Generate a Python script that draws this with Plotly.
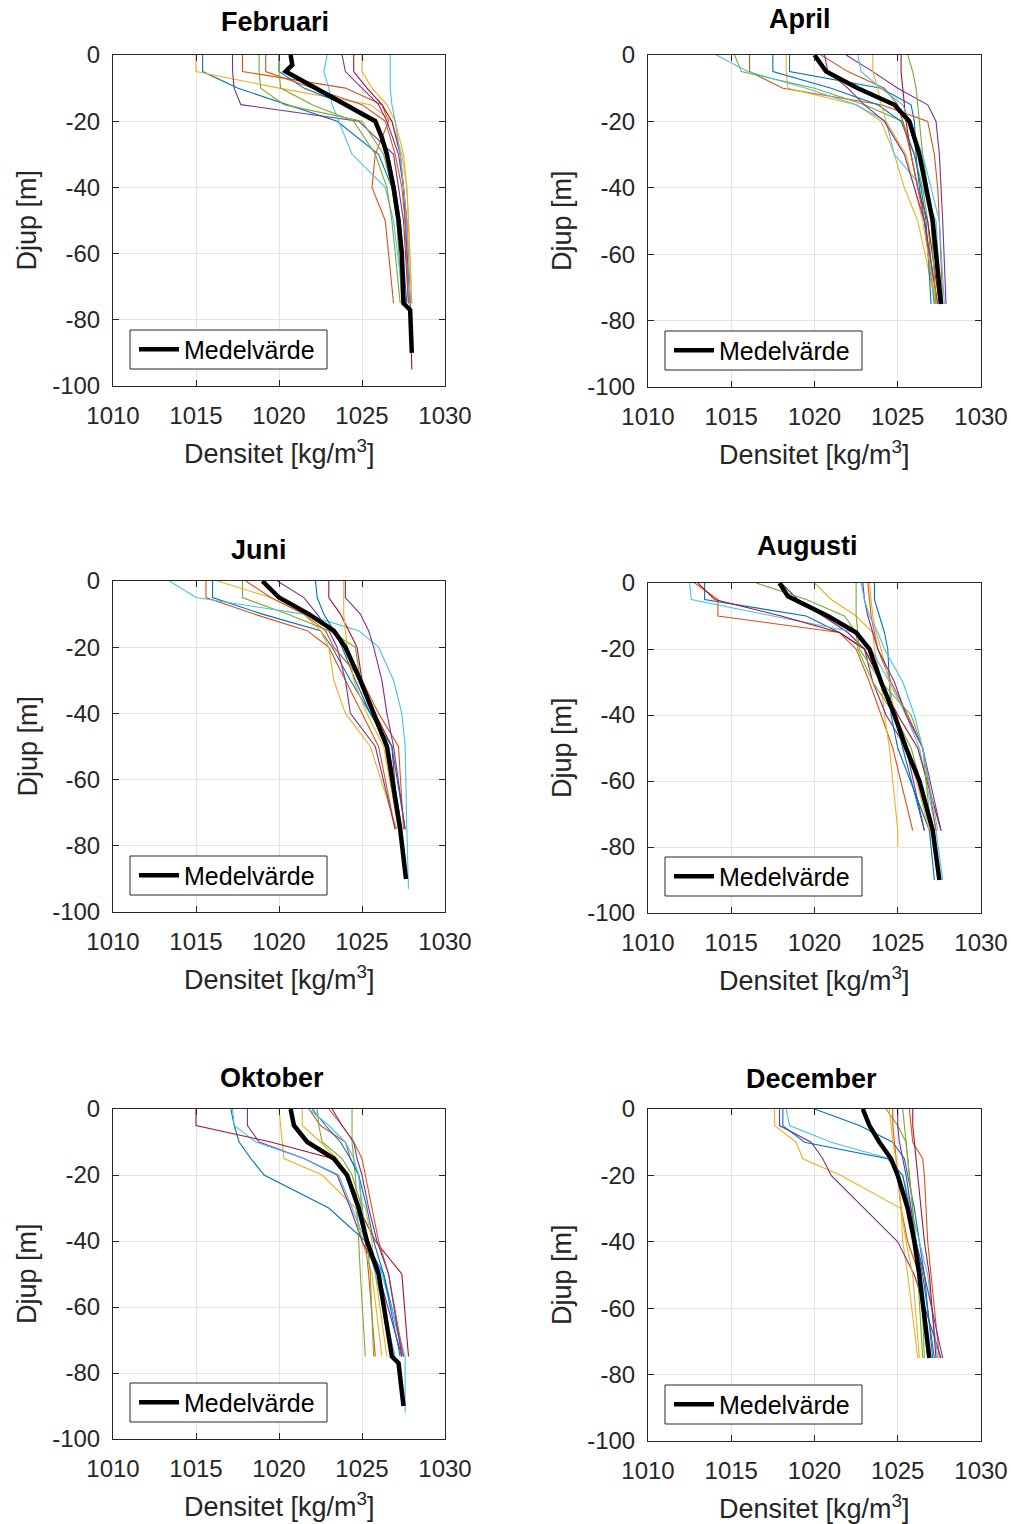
import plotly.graph_objects as go

# ---------------- data ----------------
MONTHS = ["Februari", "April", "Juni", "Augusti", "Oktober", "December"]
DEPTHS = [0, -5, -10, -15, -20, -30, -40, -50, -75]
X_TICKS = [1010, 1015, 1020, 1025, 1030]
Y_TICKS = [0, -20, -40, -60, -80, -100]
Y_TICK_TEXT = ["0", "-20", "-40", "-60", "-80", "-100"]
LEGEND_NAME = "Medelvärde"

feb_profiles = [
    [1015.4, 1015.4, 1017.5, 1020.5, 1023.5, 1026.0, 1026.8, 1027.2, 1027.6],
    [1017.8, 1017.8, 1024.0, 1026.2, 1026.6, 1025.8, 1025.6, 1026.4, 1026.9],
    [1015.0, 1015.0, 1020.0, 1025.5, 1026.8, 1027.4, 1027.7, 1027.8, 1028.0],
    [1017.2, 1017.2, 1017.3, 1017.7, 1024.8, 1026.9, 1027.2, 1027.5, 1027.8],
    [1018.8, 1018.8, 1018.9, 1020.3, 1025.0, 1026.3, 1026.8, 1027.1, 1027.4],
    [1022.9, 1022.7, 1023.0, 1023.2, 1023.6, 1024.4, 1026.4, 1026.9, 1027.5],
    [1024.5, 1024.5, 1025.3, 1026.2, 1026.8, 1027.3, 1027.5, 1027.6, 1027.9],
    [1020.0, 1020.0, 1021.5, 1024.0, 1025.8, 1026.5, 1027.0, 1027.3, 1027.7],
    [1019.2, 1019.2, 1022.0, 1025.0, 1026.4, 1027.0, 1027.4, 1027.6, 1027.8],
    [1025.0, 1025.0, 1025.6, 1026.5, 1027.0, 1027.5, 1027.7, 1027.8, 1028.0],
    [1023.8, 1024.0, 1025.0, 1026.0, 1026.5, 1027.2, 1027.5, 1027.7, 1027.9],
    [1020.0, 1020.0, 1020.1, 1022.0, 1024.5, 1025.8, 1026.5, 1026.8, 1027.3],
    [1026.7, 1026.7, 1026.7, 1026.8, 1027.0, 1027.3, 1027.5, 1027.7, 1027.9],
]
feb_extra = [(6, -95, 1028.0)]
feb_mean_depth = [0, -3, -5, -10, -15, -20, -25, -30, -40, -50, -60, -75, -77, -90]
feb_mean = [1020.7, 1020.8, 1020.4, 1022.2, 1024.1, 1025.8, 1026.2, 1026.5,
            1026.9, 1027.2, 1027.4, 1027.5, 1027.9, 1028.0]

apr_profiles = [
    [1018.5, 1018.5, 1024.0, 1025.8, 1026.0, 1026.1, 1026.3, 1026.6, 1027.2],
    [1016.1, 1016.1, 1018.1, 1024.0, 1026.8, 1027.2, 1027.4, 1027.5, 1027.7],
    [1018.3, 1018.3, 1018.4, 1022.5, 1024.0, 1024.8, 1025.4, 1026.2, 1027.3],
    [1021.9, 1023.5, 1025.0, 1026.8, 1027.3, 1027.5, 1027.6, 1027.7, 1027.9],
    [1015.2, 1015.6, 1020.0, 1023.0, 1025.3, 1026.0, 1026.5, 1026.8, 1027.2],
    [1014.1, 1016.0, 1019.5, 1022.5, 1024.3, 1024.8, 1026.5, 1027.3, 1027.6],
    [1025.2, 1025.2, 1025.3, 1025.4, 1025.5, 1025.8, 1026.2, 1026.8, 1027.5],
    [1017.5, 1017.5, 1021.0, 1023.8, 1025.2, 1026.0, 1026.4, 1026.7, 1027.0],
    [1020.4, 1022.0, 1024.2, 1025.0, 1025.3, 1025.8, 1026.2, 1026.6, 1027.4],
    [1023.5, 1023.5, 1023.8, 1024.0, 1024.3, 1025.5, 1026.0, 1026.5, 1027.3],
    [1020.6, 1020.8, 1022.0, 1023.0, 1024.2, 1025.4, 1026.0, 1026.6, 1027.4],
    [1025.6, 1025.9, 1026.1, 1026.2, 1026.3, 1026.5, 1026.8, 1027.0, 1027.3],
    [1022.6, 1022.8, 1024.0, 1025.3, 1025.7, 1026.5, 1027.0, 1027.5, 1027.8],
]
apr_extra = []
apr_mean_depth = DEPTHS
apr_mean = [1020.0, 1020.7, 1022.6, 1024.8, 1025.7, 1026.3, 1026.7, 1027.1, 1027.6]

jun_profiles = [
    [1016.0, 1016.0, 1019.0, 1022.5, 1023.2, 1024.3, 1025.5, 1026.6, 1027.4],
    [1015.6, 1015.6, 1018.5, 1021.7, 1023.0, 1024.0, 1025.0, 1026.0, 1027.0],
    [1016.3, 1019.5, 1021.5, 1022.5, 1023.0, 1023.3, 1024.0, 1025.5, 1027.1],
    [1019.9, 1021.5, 1022.3, 1023.0, 1023.5, 1024.0, 1024.3, 1025.8, 1027.0],
    [1017.8, 1017.8, 1020.5, 1023.0, 1024.6, 1024.9, 1025.8, 1026.6, 1027.3],
    [1013.4, 1015.0, 1021.5, 1024.8, 1026.0, 1026.9, 1027.4, 1027.6, 1027.7],
    [1023.0, 1023.0, 1023.7, 1024.2, 1024.7, 1025.0, 1025.8, 1026.8, 1027.2],
    [1022.2, 1022.3, 1022.7, 1023.3, 1023.8, 1024.6, 1025.5, 1026.8, 1027.6],
    [1018.0, 1019.5, 1021.5, 1022.8, 1023.3, 1025.0, 1026.0, 1027.2, 1027.5],
    [1023.9, 1023.9, 1023.9, 1024.0, 1024.1, 1024.5, 1025.3, 1026.3, 1027.2],
    [1024.0, 1024.0, 1024.9, 1025.4, 1025.7, 1026.2, 1026.5, 1026.9, 1027.6],
]
jun_extra = [(5, -93, 1027.8)]
jun_mean_depth = [0, -5, -10, -15, -20, -30, -40, -50, -75, -90]
jun_mean = [1019.0, 1020.0, 1021.8, 1023.3, 1024.0, 1024.9, 1025.7, 1026.5, 1027.3, 1027.65]

aug_profiles = [
    [1013.4, 1013.4, 1019.5, 1021.5, 1023.0, 1024.0, 1024.8, 1025.3, 1026.6],
    [1012.8, 1014.2, 1014.2, 1021.5, 1022.5, 1023.3, 1024.0, 1024.7, 1025.9],
    [1020.0, 1021.0, 1022.5, 1023.5, 1023.6, 1024.0, 1024.2, 1024.5, 1025.0],
    [1018.0, 1019.0, 1020.5, 1022.0, 1023.0, 1023.5, 1024.3, 1025.5, 1026.6],
    [1016.5, 1019.5, 1021.8, 1022.5, 1022.6, 1023.5, 1024.8, 1025.8, 1027.2],
    [1012.5, 1012.6, 1017.5, 1022.5, 1023.4, 1024.5, 1025.5, 1026.3, 1027.3],
    [1013.0, 1014.0, 1018.0, 1021.5, 1023.0, 1024.0, 1025.0, 1026.2, 1027.6],
    [1023.6, 1023.6, 1023.9, 1024.2, 1024.4, 1024.5, 1024.6, 1025.0, 1026.9],
    [1023.2, 1023.3, 1023.4, 1023.6, 1023.8, 1024.6, 1025.6, 1026.5, 1027.3],
    [1023.3, 1023.4, 1023.5, 1023.7, 1024.0, 1024.5, 1024.8, 1025.6, 1026.9],
    [1022.9, 1023.0, 1023.2, 1023.5, 1023.8, 1024.8, 1025.5, 1026.5, 1027.6],
    [1022.5, 1022.5, 1022.5, 1022.6, 1022.7, 1024.0, 1025.8, 1026.5, 1027.0],
    [1022.8, 1023.0, 1023.3, 1023.8, 1024.2, 1025.3, 1026.0, 1026.5, 1027.4],
]
aug_extra = [(2, -80, 1025.0), (5, -90, 1027.7), (7, -90, 1027.2)]
aug_mean_depth = [0, -4, -10, -15, -20, -30, -40, -50, -60, -75, -90]
aug_mean = [1017.9, 1018.4, 1020.8, 1022.5, 1023.3, 1024.0, 1024.8, 1025.5, 1026.3, 1027.1, 1027.5]

okt_profiles = [
    [1017.1, 1017.3, 1017.6, 1018.3, 1019.1, 1023.0, 1025.2, 1026.3, 1027.5],
    [1021.8, 1022.5, 1024.0, 1024.3, 1024.8, 1025.0, 1025.2, 1025.4, 1025.8],
    [1020.0, 1020.1, 1020.2, 1020.3, 1022.6, 1024.6, 1025.0, 1025.6, 1026.2],
    [1018.1, 1018.1, 1018.8, 1021.5, 1023.5, 1024.3, 1025.0, 1026.0, 1027.4],
    [1024.4, 1024.4, 1024.4, 1024.5, 1024.6, 1024.7, 1024.8, 1024.9, 1025.2],
    [1017.2, 1017.3, 1018.6, 1021.5, 1023.6, 1024.4, 1025.2, 1026.2, 1027.6],
    [1015.0, 1015.0, 1019.5, 1023.2, 1024.0, 1024.8, 1025.8, 1027.4, 1027.8],
    [1022.0, 1022.8, 1023.7, 1024.3, 1024.8, 1025.3, 1025.7, 1026.3, 1027.3],
    [1023.0, 1023.8, 1024.5, 1025.0, 1025.2, 1025.6, 1026.0, 1026.6, 1027.5],
    [1021.4, 1021.4, 1022.5, 1023.5, 1024.0, 1025.2, 1025.6, 1025.8, 1026.5],
    [1023.2, 1023.8, 1024.5, 1024.7, 1025.0, 1025.4, 1025.9, 1026.6, 1027.4],
    [1022.3, 1022.4, 1022.6, 1023.8, 1024.4, 1025.0, 1025.3, 1025.5, 1025.7],
    [1021.8, 1023.0, 1024.0, 1024.5, 1024.8, 1025.0, 1025.3, 1025.8, 1027.0],
]
okt_extra = [(5, -92, 1027.6)]
okt_mean_depth = [0, -5, -10, -15, -20, -30, -40, -50, -75, -77, -90]
okt_mean = [1020.7, 1020.9, 1021.7, 1023.3, 1024.1, 1024.8, 1025.3, 1026.0, 1026.8, 1027.2, 1027.5]

dec_profiles = [
    [1020.0, 1022.7, 1024.7, 1025.4, 1025.6, 1026.0, 1026.3, 1026.6, 1027.1],
    [1025.7, 1025.8, 1025.9, 1026.5, 1026.6, 1026.7, 1026.8, 1027.0, 1027.5],
    [1017.6, 1017.6, 1018.9, 1019.3, 1021.6, 1025.2, 1025.3, 1025.6, 1026.2],
    [1017.9, 1017.9, 1019.8, 1020.5, 1021.0, 1023.0, 1025.0, 1026.0, 1027.6],
    [1024.3, 1025.0, 1025.5, 1025.6, 1025.7, 1025.9, 1026.0, 1026.2, 1026.5],
    [1018.3, 1018.5, 1021.0, 1024.5, 1025.3, 1025.8, 1026.3, 1026.8, 1027.4],
    [1025.9, 1025.9, 1026.0, 1026.1, 1026.2, 1026.4, 1026.6, 1026.9, 1027.3],
    [1018.1, 1018.1, 1019.4, 1024.4, 1025.3, 1025.7, 1026.1, 1026.5, 1027.2],
    [1024.7, 1024.7, 1024.8, 1024.9, 1025.0, 1025.2, 1025.6, 1026.3, 1026.8],
    [1024.5, 1024.6, 1024.7, 1024.9, 1025.0, 1025.2, 1025.5, 1025.9, 1026.3],
    [1025.0, 1025.0, 1025.1, 1025.3, 1025.5, 1025.8, 1026.1, 1026.6, 1027.7],
    [1025.3, 1025.4, 1025.5, 1025.6, 1025.7, 1025.9, 1026.1, 1026.4, 1026.6],
]
dec_extra = []
dec_mean_depth = DEPTHS
dec_mean = [1022.9, 1023.3, 1023.9, 1024.6, 1025.0, 1025.6, 1026.0, 1026.3, 1026.9]

PANELS = [
    (feb_profiles, feb_extra, feb_mean_depth, feb_mean),
    (apr_profiles, apr_extra, apr_mean_depth, apr_mean),
    (jun_profiles, jun_extra, jun_mean_depth, jun_mean),
    (aug_profiles, aug_extra, aug_mean_depth, aug_mean),
    (okt_profiles, okt_extra, okt_mean_depth, okt_mean),
    (dec_profiles, dec_extra, dec_mean_depth, dec_mean),
]

# ---------------- style / layout ----------------
W, H = 1011, 1524
COLORS = ['#0072BD', '#D95319', '#EDB120', '#7E2F8E', '#77AC30', '#4DBEEE', '#A2142F']
FONT = "Liberation Sans, Arial, Helvetica, sans-serif"
AX_COLOR = '#262626'
GRID_COLOR = '#e3e3e3'

# plot boxes in pixels: (left, right, top, bottom)
BOXES = [
    (113, 445, 55, 386), (648, 981, 55, 387),
    (113, 445, 581, 912), (648, 981, 583, 913),
    (113, 445, 1109, 1439), (648, 981, 1109, 1441),
]
TITLE_POS = [(275, 22), (800, 19), (259, 550), (807, 546), (272, 1078), (811, 1079)]


def px(xp):
    return xp / W


def py(yp):
    return 1 - yp / H


fig = go.Figure()
layout = dict(
    width=W, height=H, margin=dict(l=0, r=0, t=0, b=0, autoexpand=False),
    paper_bgcolor='white', plot_bgcolor='white',
    font=dict(family=FONT, size=24, color='#262626'),
    showlegend=True, annotations=[], shapes=[],
)

for i, (profiles, extra, mdepth, mvals) in enumerate(PANELS):
    n = i + 1
    xa = 'x' if n == 1 else f'x{n}'
    ya = 'y' if n == 1 else f'y{n}'
    lg = 'legend' if n == 1 else f'legend{n}'
    for k, vals in enumerate(profiles):
        d = list(DEPTHS)
        v = list(vals)
        for (idx, dd, vv) in extra:
            if idx == k:
                d.append(dd)
                v.append(vv)
        fig.add_trace(go.Scatter(
            x=v, y=d, mode='lines', xaxis=xa, yaxis=ya,
            line=dict(color=COLORS[k % len(COLORS)], width=1.1),
            showlegend=False, hoverinfo='skip'))
    fig.add_trace(go.Scatter(
        x=mvals, y=mdepth, mode='lines', xaxis=xa, yaxis=ya,
        line=dict(color='black', width=4.5), name=LEGEND_NAME,
        legend=lg, showlegend=True))

    l, r, t, b = BOXES[i]
    axcommon = dict(
        showline=True, linecolor=AX_COLOR, linewidth=1, mirror='ticks',
        ticks='inside', ticklen=6, tickcolor=AX_COLOR, tickwidth=1,
        showgrid=True, gridcolor=GRID_COLOR, gridwidth=1, zeroline=False,
        automargin=False,
        tickfont=dict(family=FONT, size=24, color='#262626'),
    )
    layout['xaxis' if n == 1 else f'xaxis{n}'] = dict(
        axcommon, domain=[px(l), px(r)], range=[1010, 1030],
        tickvals=X_TICKS, ticktext=[str(t_) for t_ in X_TICKS],
        anchor=ya, ticklabelstandoff=8)
    layout['yaxis' if n == 1 else f'yaxis{n}'] = dict(
        axcommon, domain=[py(b), py(t)], range=[-100, 0],
        tickvals=Y_TICKS, ticktext=Y_TICK_TEXT,
        anchor=xa, ticklabelstandoff=7)

    # legend frame (drawn as a shape so its size matches the reference)
    bx0, bx1, by0, by1 = l + 17, l + 214, b - 56, b - 17
    layout['shapes'].append(dict(
        type='rect', xref='paper', yref='paper',
        x0=px(bx0), x1=px(bx1), y0=py(by1), y1=py(by0),
        fillcolor='white', line=dict(color=AX_COLOR, width=1), layer='above'))
    layout[lg] = dict(
        x=px(bx0 + 4), y=py((by0 + by1) / 2), xanchor='left', yanchor='middle',
        xref='paper', yref='paper',
        bgcolor='rgba(0,0,0,0)', borderwidth=0,
        font=dict(family=FONT, size=25, color='black'), itemwidth=40,
    )
    tx, ty = TITLE_POS[i]
    layout['annotations'].append(dict(
        text=f'<b>{MONTHS[i]}</b>', x=px(tx), y=py(ty), xref='paper', yref='paper',
        showarrow=False, xanchor='center', yanchor='middle',
        font=dict(family=FONT, size=27, color='black')))
    layout['annotations'].append(dict(
        text='Densitet [kg/m<sup>3</sup>]', x=px((l + r) / 2), y=py(b + 66),
        xref='paper', yref='paper', showarrow=False, xanchor='center', yanchor='middle',
        font=dict(family=FONT, size=27, color='#262626')))
    layout['annotations'].append(dict(
        text='Djup [m]', x=px(l - 86), y=py((t + b) / 2), textangle=-90,
        xref='paper', yref='paper', showarrow=False, xanchor='center', yanchor='middle',
        font=dict(family=FONT, size=27, color='#262626')))

fig.update_layout(**layout)
fig.write_html("out.html")
